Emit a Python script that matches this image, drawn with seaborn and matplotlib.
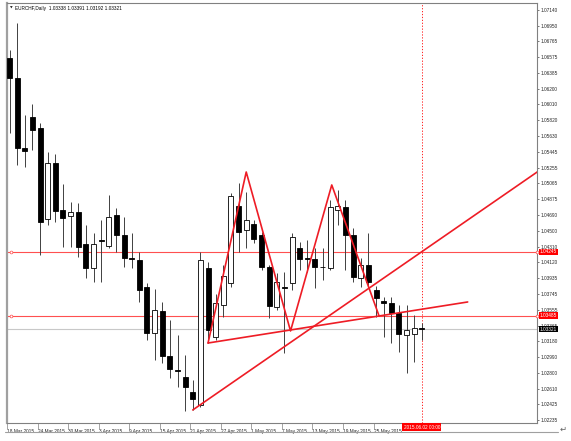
import numpy as np
import pandas as pd
import matplotlib
matplotlib.use('Agg')
import matplotlib.pyplot as plt
from matplotlib.lines import Line2D
import seaborn as sns

# EURCHF daily candles, 18 Mar 2015 .. 2 Jun 2015 (one per business day)
opens = [1.06566, 1.06327, 1.05489, 1.05860, 1.05728, 1.04640, 1.05310, 1.04747, 1.04676, 1.04723,
         1.04341, 1.04054, 1.04383, 1.04317, 1.04688, 1.04448, 1.04173, 1.04149, 1.03826, 1.03276,
         1.03539, 1.03001, 1.02833, 1.02750, 1.02570, 1.02415, 1.04054, 1.03228, 1.03611, 1.03874,
         1.04795, 1.04508, 1.04580, 1.04448, 1.04066, 1.03587, 1.03826, 1.03874, 1.04293, 1.04173,
         1.04161, 1.04066, 1.04054, 1.04747, 1.04783, 1.04448, 1.03934, 1.04089, 1.03790, 1.03659,
         1.03635, 1.03515, 1.03252, 1.03264, 1.03338]
highs = [1.06661, 1.06985, 1.05884, 1.06016, 1.05788, 1.05441, 1.05417, 1.05058, 1.04843, 1.04831,
         1.04568, 1.04472, 1.04628, 1.04927, 1.04771, 1.04664, 1.04472, 1.04245, 1.03874, 1.03802,
         1.03647, 1.03431, 1.03252, 1.03013, 1.02714, 1.04245, 1.04125, 1.03743, 1.04089, 1.04951,
         1.05070, 1.04963, 1.04628, 1.04484, 1.04089, 1.03994, 1.04006, 1.04472, 1.04365, 1.04389,
         1.04293, 1.04293, 1.04867, 1.04987, 1.04867, 1.04532, 1.04173, 1.04472, 1.03838, 1.03707,
         1.03707, 1.03611, 1.03611, 1.03491, 1.03391]
lows = [1.05669, 1.05286, 1.05262, 1.05465, 1.04209, 1.04568, 1.04604, 1.04305, 1.04305, 1.04185,
        1.03934, 1.03886, 1.03886, 1.04293, 1.04245, 1.04066, 1.04054, 1.03647, 1.03192, 1.02953,
        1.02917, 1.02738, 1.02630, 1.02343, 1.02355, 1.02391, 1.03156, 1.03192, 1.03467, 1.03826,
        1.04245, 1.04293, 1.04353, 1.04030, 1.03455, 1.03551, 1.03037, 1.03790, 1.04030, 1.04006,
        1.03814, 1.03910, 1.04030, 1.04568, 1.04030, 1.03886, 1.03826, 1.03826, 1.03467, 1.03228,
        1.03156, 1.03049, 1.02797, 1.02929, 1.03192]
closes = [1.06327, 1.05489, 1.05453, 1.05704, 1.04604, 1.05310, 1.04735, 1.04652, 1.04723, 1.04305,
          1.04054, 1.04341, 1.04371, 1.04664, 1.04448, 1.04173, 1.04167, 1.03790, 1.03276, 1.03551,
          1.03001, 1.02845, 1.02827, 1.02630, 1.02486, 1.04149, 1.03312, 1.03635, 1.03958, 1.04915,
          1.04484, 1.04628, 1.04401, 1.04066, 1.03599, 1.03886, 1.03820, 1.04424, 1.04161, 1.04167,
          1.04066, 1.04060, 1.04783, 1.04795, 1.04448, 1.03946, 1.04089, 1.03886, 1.03695, 1.03635,
          1.03515, 1.03264, 1.03312, 1.03336, 1.03321]

date_labels = ['18 Mar 2015', '24 Mar 2015', '30 Mar 2015', '3 Apr 2015', '9 Apr 2015',
               '15 Apr 2015', '21 Apr 2015', '27 Apr 2015', '1 May 2015', '7 May 2015',
               '13 May 2015', '19 May 2015', '25 May 2015']
date_label_bars = [0, 4, 8, 12, 16, 20, 24, 28, 32, 36, 40, 44, 48]

price_ticks = [1.07140, 1.06950, 1.06765, 1.06575, 1.06385, 1.06200, 1.06010, 1.05820, 1.05630,
               1.05445, 1.05255, 1.05065, 1.04875, 1.04690, 1.04500, 1.04310, 1.04120, 1.03935,
               1.03745, 1.03555, 1.03365, 1.03180, 1.02990, 1.02800, 1.02610, 1.02425, 1.02235]

# drawn objects (bar index, price)
m_pattern_bars = [26, 31, 36.8, 42.2, 48.4]
m_pattern_prices = [1.03156, 1.05202, 1.03300, 1.05047, 1.03479]
neckline_bars = [26, 60]
neckline_prices = [1.03156, 1.03647]
support_bars = [24, 48]
support_prices = [1.02355, 1.03870]
hlines = [1.04245, 1.03485]
vline_bar = 54
vline_label = '2015.06.02 00:00'
title = 'EURCHF,Daily  1.03338 1.03391 1.03192 1.03321'

df = pd.DataFrame({'open': opens, 'high': highs, 'low': lows, 'close': closes})
df['bar'] = np.arange(len(df))
df['up'] = df['close'] >= df['open']

sns.set_theme(style='white')
plt.rcParams['font.family'] = ['Liberation Sans', 'DejaVu Sans']
fs = 3.4

fig = plt.figure(figsize=(5.71, 4.41), dpi=100)
ax = fig.add_axes([7 / 571, 18 / 441, 530 / 571, 420 / 441])
xmin, xmax = -0.196, 69.08
ax.set_xlim(xmin, xmax)
ax.set_ylim(1.02199, 1.07224)

# horizontal objects
ax.axhline(closes[-1], color='#c8c8c8', lw=0.8, zorder=1)
for lv in hlines:
    ax.axhline(lv, color='#ff5050', lw=0.8, zorder=1)
    ax.plot([0.2, xmax], [lv, lv], ls='none', marker='o', ms=2, mfc='white', mec='#ff5050',
            mew=0.5, clip_on=False, zorder=6)
ax.axvline(vline_bar, color='red', lw=0.6, ls=(0, (1.5, 2)), zorder=1)

# candles
ax.vlines(df['bar'], df['low'], df['high'], color='#404040', lw=0.7, zorder=2)
body_lo = df[['open', 'close']].min(axis=1)
body_h = (df['close'] - df['open']).abs()
ax.bar(df['bar'], body_h, bottom=body_lo, width=0.66,
       color=np.where(df['up'], 'white', 'black'), edgecolor='black', linewidth=0.6, zorder=3)

# trend lines
red = '#ee1c25'
sns.lineplot(x=m_pattern_bars, y=m_pattern_prices, sort=False, estimator=None,
             color=red, lw=1.2, ax=ax, zorder=5)
sns.lineplot(x=neckline_bars, y=neckline_prices, sort=False, estimator=None,
             color=red, lw=1.2, ax=ax, zorder=5)
slope = (support_prices[1] - support_prices[0]) / (support_bars[1] - support_bars[0])
ray_x = [support_bars[0], xmax + 5]
ray_y = [support_prices[0], support_prices[0] + slope * (ray_x[1] - support_bars[0])]
ax.plot(ray_x, ray_y, color=red, lw=1.2, zorder=5)

# axes styling
ax.yaxis.tick_right()
ax.set_yticks(price_ticks)
ax.set_yticklabels([f'{p:.5f}' for p in price_ticks])
ax.set_xticks([b - 0.33 for b in date_label_bars])
ax.set_xticklabels(date_labels)
for lab in ax.get_xticklabels():
    lab.set_horizontalalignment('left')
ax.tick_params(axis='y', which='both', right=True, left=False, direction='out', length=1.5,
               width=0.5, color='#404040', pad=1, labelsize=fs)
ax.tick_params(axis='x', which='both', bottom=True, direction='out', length=4,
               width=0.5, color='#808080', pad=0.3, labelsize=fs)
ax.set_xlabel('')
ax.set_ylabel('')
for s in ax.spines.values():
    s.set_color('#808080')
    s.set_linewidth(0.8)
ax.spines['left'].set_linewidth(1.6)
ax.spines['left'].set_color('#a0a0a0')

# price tags on the price axis
def tag(y, text, fc):
    ax.annotate(text, xy=(1, y), xycoords=('axes fraction', 'data'), xytext=(2.2, 0),
                textcoords='offset points', ha='left', va='center', fontsize=fs, color='white',
                bbox=dict(boxstyle='square,pad=0.15', fc=fc, ec='none'),
                annotation_clip=False, zorder=10)

for lv in hlines:
    tag(lv, f'{lv:.5f}', '#ff0000')
tag(closes[-1], f'{closes[-1]:.5f}', 'black')

ax.annotate(vline_label, xy=(vline_bar, 0), xycoords=('data', 'axes fraction'),
            xytext=(0, -1.2), textcoords='offset points', ha='center', va='top', fontsize=fs,
            color='white', bbox=dict(boxstyle='square,pad=0.25', fc='#ff0000', ec='none'),
            annotation_clip=False, zorder=10)

ax.text(0.006, 0.988, '\u25bc', transform=ax.transAxes, fontsize=2.5, va='center', ha='left',
        color='#202020', family='DejaVu Sans')
ax.text(0.016, 0.988, title, transform=ax.transAxes, fontsize=fs, va='center', ha='left',
        color='black')

fig.add_artist(Line2D([5 / 571, 558 / 571], [1 - 432 / 441, 1 - 432 / 441],
                      color='#a0a0a0', lw=0.8))
fig.text(560 / 571, 1 - 429 / 441, '\u21b5', fontsize=6, color='#606060', va='center',
         ha='left', family='DejaVu Sans')

fig.savefig('out.png', dpi=100, facecolor='white')
